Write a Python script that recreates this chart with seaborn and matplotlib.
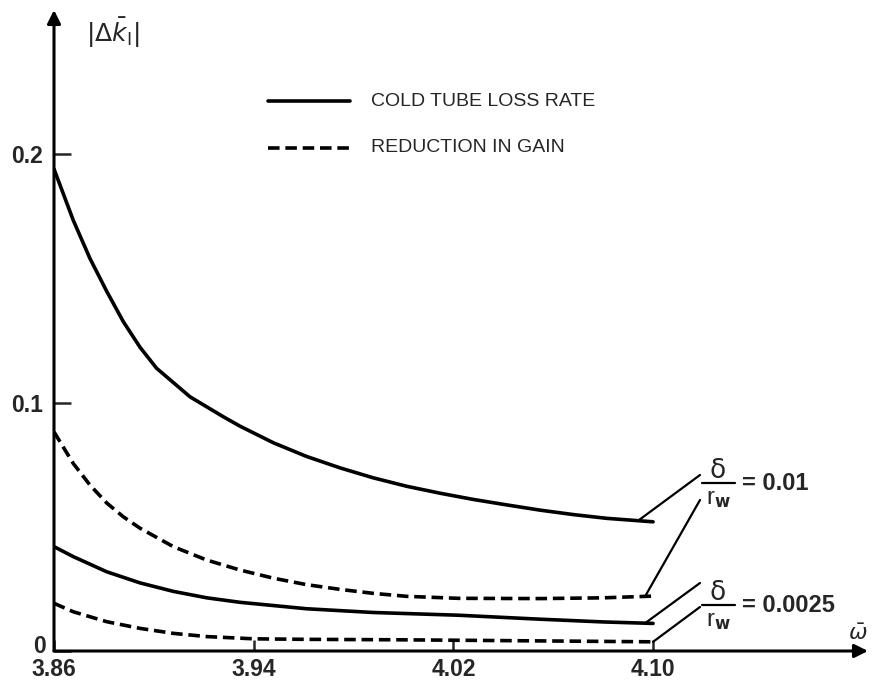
import numpy as np
import pandas as pd
import matplotlib
matplotlib.use("Agg")
import matplotlib.pyplot as plt
import seaborn as sns

# ---- data ----
# delta / r_w = 0.01, cold tube loss rate
omega_loss_001 = [3.86, 3.8677, 3.8744, 3.8811, 3.8878, 3.8945, 3.9011, 3.9145, 3.9278, 3.9345,
                  3.9479, 3.9612, 3.9746, 3.9879, 4.0013, 4.0147, 4.028, 4.0414, 4.0547, 4.0681,
                  4.0814, 4.10]
loss_001 = [0.194, 0.1734, 0.158, 0.1448, 0.1325, 0.1222, 0.1138, 0.1023, 0.0943, 0.0905,
            0.0838, 0.0783, 0.0737, 0.0697, 0.0663, 0.0635, 0.0610, 0.0588, 0.0567, 0.0549,
            0.0534, 0.052]
# delta / r_w = 0.01, reduction in gain
omega_gain_001 = [3.86, 3.8677, 3.8744, 3.8811, 3.8878, 3.8945, 3.9078, 3.9212, 3.9345, 3.9479,
                  3.9612, 3.9746, 3.9879, 4.0013, 4.022, 4.0547, 4.08, 4.10]
gain_001 = [0.0882, 0.0755, 0.0668, 0.0596, 0.0540, 0.0494, 0.0420, 0.0366, 0.0326, 0.0293,
            0.0267, 0.0248, 0.0232, 0.0220, 0.0212, 0.0211, 0.0214, 0.0221]
# delta / r_w = 0.0025, cold tube loss rate
omega_loss_0025 = [3.86, 3.8677, 3.8811, 3.8945, 3.9078, 3.9212, 3.9345, 3.9612, 3.9879, 4.022,
                   4.0547, 4.08, 4.10]
loss_0025 = [0.042, 0.038, 0.0319, 0.0274, 0.0240, 0.0214, 0.0196, 0.0170, 0.0155, 0.0144,
             0.0128, 0.0117, 0.0111]
# delta / r_w = 0.0025, reduction in gain
omega_gain_0025 = [3.86, 3.8677, 3.8811, 3.8945, 3.9078, 3.9212, 3.94, 3.96, 4.00, 4.05, 4.10]
gain_0025 = [0.0192, 0.0158, 0.0118, 0.0091, 0.0071, 0.0058, 0.0049, 0.0047, 0.0045, 0.0041, 0.0037]

x_ticks = [3.86, 3.94, 4.02, 4.10]
x_ticklabels = ["3.86", "3.94", "4.02", "4.10"]
y_ticks = [0, 0.1, 0.2]
y_ticklabels = ["0", "0.1", "0.2"]
legend_labels = ["COLD TUBE LOSS RATE", "REDUCTION IN GAIN"]
ratio_labels = ["= 0.01", "= 0.0025"]

sns.set_theme(style="white")
plt.rcParams["font.family"] = ["Liberation Sans", "DejaVu Sans"]
plt.rcParams["mathtext.fontset"] = "dejavusans"

fig = plt.figure(figsize=(8.72, 6.87), dpi=100)
ax = fig.add_axes([54 / 872, 36 / 687, 814 / 872, 641 / 687])

LW = 2.6
DASH = (0, (3.2, 1.6))
series = [
    (omega_loss_001, loss_001, "-"),
    (omega_gain_001, gain_001, DASH),
    (omega_loss_0025, loss_0025, "-"),
    (omega_gain_0025, gain_0025, DASH),
]
for xv, yv, ls in series:
    sns.lineplot(x=xv, y=yv, ax=ax, color="black", lw=LW, linestyle=ls,
                 estimator=None, sort=True)

ax.set_xlim(3.86, 4.1861)
ax.set_ylim(0, 0.258)

for s in ax.spines.values():
    s.set_visible(False)

# axes with arrows
arrow = dict(arrowstyle="-|>", lw=2.2, color="black", mutation_scale=20,
             shrinkA=0, shrinkB=0)
ax.annotate("", xy=(0, 1.0), xytext=(0, 0), xycoords="axes fraction",
            textcoords="axes fraction", arrowprops=arrow, annotation_clip=False)
ax.annotate("", xy=(1.0, 0), xytext=(0, 0), xycoords="axes fraction",
            textcoords="axes fraction", arrowprops=arrow, annotation_clip=False)

TICK_FS = 16.5
ax.set_xticks(x_ticks)
ax.set_xticklabels(x_ticklabels, fontsize=TICK_FS, fontweight="bold")
ax.set_yticks(y_ticks)
# the zero label sits just above the x labels, drawn separately below
ax.set_yticklabels([""] + y_ticklabels[1:], fontsize=TICK_FS, fontweight="bold")
ax.annotate(y_ticklabels[0], xy=(x_ticks[0], y_ticks[0]), xytext=(-6, 3),
            textcoords="offset points", ha="right", va="center",
            fontsize=TICK_FS, fontweight="bold", annotation_clip=False)
ax.tick_params(axis="y", direction="in", length=12, width=1.8, pad=8, left=True)
ax.tick_params(axis="x", direction="in", length=8, width=1.8, pad=4.7, bottom=True)
ax.set_xlabel("")
ax.set_ylabel("")
ax.grid(False)

# axis titles
ax.text(3.8836, 0.2487, r"$|\Delta\bar{k}_{\mathrm{I}}|$", fontsize=18,
        ha="center", va="center")
ax.text(4.1861, 0.0066, r"$\bar{\omega}$", fontsize=16, ha="right", va="center",
        clip_on=False)

# manual legend (axes fraction)
def fx(px):
    return (px - 54) / 814

def fy(py):
    return (651 - py) / 641

for (lbl, ls), py in zip(zip(legend_labels, ["-", DASH]), [101, 148]):
    ax.plot([fx(268), fx(350)], [fy(py), fy(py)], transform=ax.transAxes,
            color="black", lw=LW, linestyle=ls)
    ax.text(fx(371), fy(py), lbl, transform=ax.transAxes, fontsize=14,
            ha="left", va="center")

# ratio annotations with leader lines
def annot(label, bar_py, leaders):
    bx0, bx1 = fx(702), fx(735)
    ax.plot([bx0, bx1], [fy(bar_py), fy(bar_py)], transform=ax.transAxes,
            color="black", lw=1.6, clip_on=False)
    ax.text(fx(718), fy(bar_py - 12), "δ", transform=ax.transAxes,
            fontsize=19, ha="center", va="center",
            family=["DejaVu Sans"])
    ax.text(fx(718), fy(bar_py + 16), r"$\mathregular{r_{\mathbf{w}}}$",
            transform=ax.transAxes, fontsize=17, ha="center", va="center")
    ax.text(fx(742), fy(bar_py), label, transform=ax.transAxes, fontsize=17,
            fontweight="bold", ha="left", va="center")
    for (sx, sy), (tx, xs, curve) in leaders:
        ty = np.interp(tx, xs, curve)
        disp = ax.transData.transform((tx, ty))
        tax = ax.transAxes.inverted().transform(disp)
        ax.plot([fx(sx), tax[0]], [fy(sy), tax[1]], transform=ax.transAxes,
                color="black", lw=1.6)

annot(ratio_labels[0], 483,
      [((700, 475), (4.094, omega_loss_001, loss_001)),
       ((700, 500), (4.0968, omega_gain_001, gain_001))])
annot(ratio_labels[1], 605,
      [((700, 583), (4.0968, omega_loss_0025, loss_0025)),
       ((700, 607), (4.100, omega_gain_0025, gain_0025))])

fig.savefig("out.png", dpi=100, facecolor="white")
